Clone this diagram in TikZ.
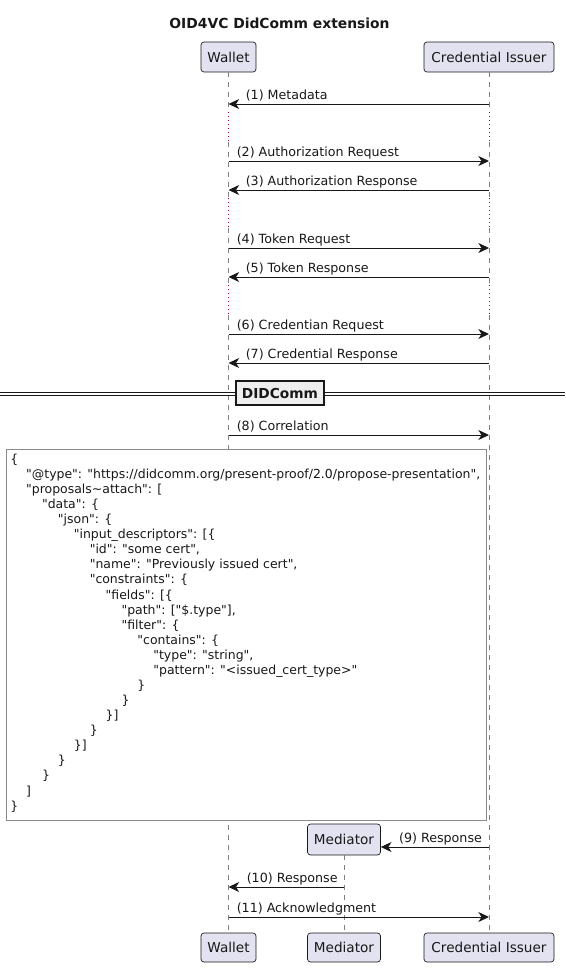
\documentclass[tikz,border=0pt]{standalone}
\usepackage{fontspec}
\setmainfont{DejaVu Sans}
\newfontfamily\jsonfont{DejaVu Sans}[Ligatures=ResetAll]
\usetikzlibrary{arrows.meta,calc}
\definecolor{partfill}{HTML}{E2E2F0}
\definecolor{ink}{HTML}{181818}
\definecolor{lifecol}{HTML}{808080}
\definecolor{delaycol}{HTML}{A80036}
\definecolor{notebd}{HTML}{8A8A8A}
\definecolor{divfill}{HTML}{EEEEEE}
\newcommand\jsonline[3]{\node[notetxt] (j#1) at ({10+#2*15.9},{463.3+(#1-1)*15.08}) {#3};}
\begin{document}
\begin{tikzpicture}[x=0.75pt,y=-0.75pt,
  part/.style={draw=ink, fill=partfill, rounded corners=2.25pt, line width=0.5pt, inner sep=0pt,
    font=\fontsize{10.2}{12}\selectfont, text=ink},
  life/.style={draw=lifecol, line width=0.75pt, dash pattern=on 3.75pt off 3.75pt},
  delay/.style={draw=delaycol, line width=0.75pt, dash pattern=on 0.75pt off 2.25pt},
  msg/.style={draw=ink, line width=0.75pt, -{Stealth[length=8pt,width=7.5pt,inset=2.4pt]}},
  lbl/.style={anchor=base west, inner sep=0pt, font=\fontsize{9.5}{11}\selectfont, text=ink},
  notetxt/.style={anchor=base west, inner sep=0pt, font=\jsonfont\fontsize{9.35}{11}\selectfont, text=ink},
]
\useasboundingbox (0,0) rectangle (565,968);

% title
\node[anchor=base, inner sep=0pt, font=\bfseries\fontsize{10.4}{12}\selectfont, text=ink] (title) at (279.5,28) {OID4VC DidComm extension};

% participants
\node[part, minimum width=41.25pt, minimum height=22.5pt] (wTop) at (228.5,57) {Wallet};
\node[part, minimum width=97.5pt, minimum height=22.5pt] (iTop) at (489,57) {Credential Issuer};
\node[part, minimum width=41.25pt, minimum height=21.75pt] (wBot) at (228.5,947.5) {Wallet};
\node[part, minimum width=54.75pt, minimum height=21.75pt] (mBot) at (344,947.5) {Mediator};
\node[part, minimum width=97.5pt, minimum height=21.75pt] (iBot) at (489,947.5) {Credential Issuer};
\node[part, minimum width=54.75pt, minimum height=23.25pt] (mTop) at (344,839.5) {Mediator};

% delay marks
\coordinate (d1s) at (0,112); \coordinate (d1e) at (0,142);
\coordinate (d2s) at (0,198); \coordinate (d2e) at (0,228);
\coordinate (d3s) at (0,285); \coordinate (d3e) at (0,315);

% lifelines
\foreach \a/\b in {wTop/wBot, iTop/iBot}{
  \draw[life] (\a.south) -- (\a |- d1s);
  \draw[delay] (\a |- d1s) -- (\a |- d1e);
  \draw[life] (\a |- d1e) -- (\a |- d2s);
  \draw[delay] (\a |- d2s) -- (\a |- d2e);
  \draw[life] (\a |- d2e) -- (\a |- d3s);
  \draw[delay] (\a |- d3s) -- (\a |- d3e);
  \draw[life] (\a |- d3e) -- (\b.north);
}
\draw[life] (mTop.south) -- (mBot.north);

% message rows
\coordinate (m1) at (0,104);
\coordinate (m2) at (0,161);
\coordinate (m3) at (0,190);
\coordinate (m4) at (0,248);
\coordinate (m5) at (0,277);
\coordinate (m6) at (0,334);
\coordinate (m7) at (0,363);
\coordinate (m8) at (0,435);
\coordinate (m9) at (0,847);
\coordinate (m10) at (0,887);
\coordinate (m11) at (0,917);

\draw[msg] (iTop |- m1) -- (wTop |- m1);
\node[lbl] (l1) at ($(wTop |- m1)+(17,-4.5)$) {(1) Metadata};
\draw[msg] (wTop |- m2) -- (iTop |- m2);
\node[lbl] (l2) at ($(wTop |- m2)+(8,-4.5)$) {(2) Authorization Request};
\draw[msg] (iTop |- m3) -- (wTop |- m3);
\node[lbl] (l3) at ($(wTop |- m3)+(17,-4.5)$) {(3) Authorization Response};
\draw[msg] (wTop |- m4) -- (iTop |- m4);
\node[lbl] (l4) at ($(wTop |- m4)+(8,-4.5)$) {(4) Token Request};
\draw[msg] (iTop |- m5) -- (wTop |- m5);
\node[lbl] (l5) at ($(wTop |- m5)+(17,-4.5)$) {(5) Token Response};
\draw[msg] (wTop |- m6) -- (iTop |- m6);
\node[lbl] (l6) at ($(wTop |- m6)+(8,-4.5)$) {(6) Credentian Request};
\draw[msg] (iTop |- m7) -- (wTop |- m7);
\node[lbl] (l7) at ($(wTop |- m7)+(17,-4.5)$) {(7) Credential Response};

% divider
\coordinate (dl) at (0,394);
\coordinate (dr) at (565,394);
\draw[ink, line width=0.75pt, double=white, double distance=1.5pt] (dl) -- (dr);
\node[draw=ink, fill=divfill, line width=1.5pt, minimum width=66pt, minimum height=18pt, inner sep=0pt,
  font=\bfseries\fontsize{10.3}{12}\selectfont, text=ink] (div) at (280,393) {DIDComm};

\draw[msg] (wTop |- m8) -- (iTop |- m8);
\node[lbl] (l8) at ($(wTop |- m8)+(8,-4.5)$) {(8) Correlation};

% note
\node[draw=notebd, fill=white, line width=0.75pt, minimum width=360pt, minimum height=278.6pt,
  inner sep=0pt, anchor=north west] (note) at (5.5,448.5) {};
\jsonline{1}{0}{\{}
\jsonline{2}{1}{"@type": "https://didcomm.org/present-proof/2.0/propose-presentation",}
\jsonline{3}{1}{"proposals\textasciitilde attach": [}
\jsonline{4}{2}{"data": \{}
\jsonline{5}{3}{"json": \{}
\jsonline{6}{4}{"input\_descriptors": [\{}
\jsonline{7}{5}{"id": "some cert",}
\jsonline{8}{5}{"name": "Previously issued cert",}
\jsonline{9}{5}{"constraints": \{}
\jsonline{10}{6}{"fields": [\{}
\jsonline{11}{7}{"path": ["\$.type"],}
\jsonline{12}{7}{"filter": \{}
\jsonline{13}{8}{"contains": \{}
\jsonline{14}{9}{"type": "string",}
\jsonline{15}{9}{"pattern": "<issued\_cert\_type>"}
\jsonline{16}{8}{\}}
\jsonline{17}{7}{\}}
\jsonline{18}{6}{\}]}
\jsonline{19}{5}{\}}
\jsonline{20}{4}{\}]}
\jsonline{21}{3}{\}}
\jsonline{22}{2}{\}}
\jsonline{23}{1}{]}
\jsonline{24}{0}{\}}

% DIDComm messages
\draw[msg] (iTop |- m9) -- (mTop.east |- m9);
\node[lbl] (l9) at ($(mTop.east |- m9)+(18,-4.5)$) {(9) Response};
\draw[msg] (mTop |- m10) -- (wTop |- m10);
\node[lbl] (l10) at ($(wTop |- m10)+(18,-4.5)$) {(10) Response};
\draw[msg] (wTop |- m11) -- (iTop |- m11);
\node[lbl] (l11) at ($(wTop |- m11)+(8,-4.5)$) {(11) Acknowledgment};
\end{tikzpicture}
\end{document}
